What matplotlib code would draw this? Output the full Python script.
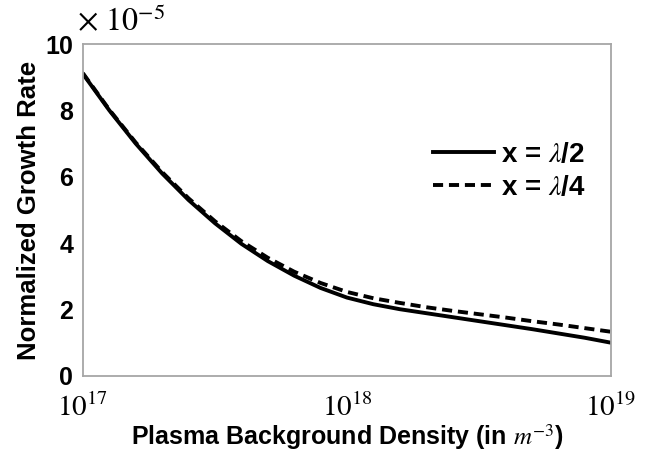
import matplotlib.pyplot as plt
import numpy as np

# values (growth rate in units of 1e-5)
log_density = [17.0, 17.1, 17.2, 17.3, 17.4, 17.5, 17.6, 17.7, 17.8, 17.9, 18.0,
               18.1, 18.2, 18.3, 18.4, 18.5, 18.6, 18.7, 18.8, 18.9, 19.0]
rate_half = [9.1, 8.0, 7.0, 6.1, 5.3, 4.6, 3.98, 3.46, 3.02, 2.65, 2.36,
             2.16, 2.01, 1.89, 1.77, 1.65, 1.53, 1.41, 1.28, 1.15, 1.0]
rate_quarter = [9.12, 8.02, 7.03, 6.14, 5.35, 4.66, 4.06, 3.56, 3.14, 2.8, 2.53,
                2.34, 2.2, 2.07, 1.96, 1.86, 1.76, 1.65, 1.55, 1.44, 1.33]
xticks = [1e17, 1e18, 1e19]
xticklabels = ['$10^{17}$', '$10^{18}$', '$10^{19}$']
yticks = [0, 2, 4, 6, 8, 10]

plt.rcParams['font.family'] = ['Liberation Sans', 'DejaVu Sans']
plt.rcParams['mathtext.fontset'] = 'stix'

density = 10 ** np.array(log_density)

fig = plt.figure(figsize=(6.48, 4.54), dpi=100)
ax = fig.add_axes([0.128, 0.172, 0.815, 0.731])

ax.plot(density, rate_half, color='black', lw=2.8, label=r'x = $\lambda$/2')
ax.plot(density, rate_quarter, color='black', lw=2.8, ls=(0, (2.6, 1.5)),
        label=r'x = $\lambda$/4')

ax.set_xscale('log')
ax.set_xlim(1e17, 1e19)
ax.set_ylim(0, 10)
ax.set_xticks(xticks)
ax.set_xticklabels(xticklabels, fontsize=21)
ax.minorticks_off()
ax.set_yticks(yticks)
ax.set_yticklabels([str(t) for t in yticks], fontsize=18, fontweight='bold')
ax.tick_params(length=0, pad=7)
ax.tick_params(axis='x', pad=13)

for s in ax.spines.values():
    s.set_color('#a6a6a6')
    s.set_linewidth(1.3)

ax.set_xlabel(r'Plasma Background Density (in $m^{-3}$)', fontsize=18,
              fontweight='bold', labelpad=0)
ax.set_ylabel('Normalized Growth Rate', fontsize=18.5, fontweight='bold',
              labelpad=3)

ax.text(-0.012, 1.02, r'$\times\ 10^{-5}$', transform=ax.transAxes,
        fontsize=23, ha='left', va='bottom')

leg = ax.legend(loc='upper right', bbox_to_anchor=(1.0, 0.78), frameon=False,
                handlelength=2.2, handletextpad=0.25, labelspacing=0.25,
                prop={'size': 20, 'weight': 'bold'})

fig.savefig('out.png', dpi=100)
